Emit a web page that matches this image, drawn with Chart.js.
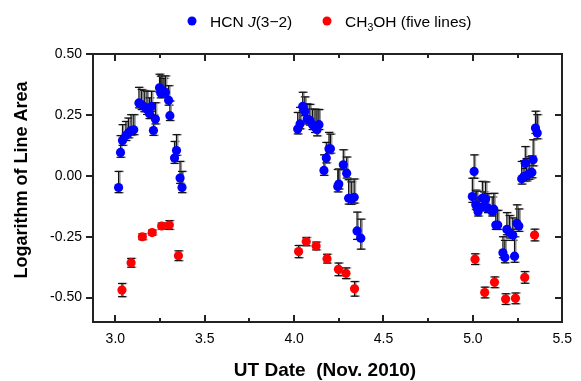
<!DOCTYPE html>
<html>
<head>
<meta charset="utf-8">
<script src="https://cdn.jsdelivr.net/npm/chart.js@4.4.0/dist/chart.umd.min.js"></script>
<style>
  html, body { margin: 0; padding: 0; background: #fff; }
  #grafico { display: block; }
</style>
</head>
<body>
<canvas id="grafico" width="581" height="381"></canvas>
<script>
// HCN J(3-2)
const hcnX = [3.018, 3.029, 3.040, 3.059, 3.073, 3.088, 3.103, 3.132, 3.147, 3.162, 3.177, 3.191, 3.202,
  3.213, 3.224, 3.247, 3.254, 3.261, 3.272, 3.280, 3.298, 3.305, 3.331, 3.342, 3.362, 3.373,
  4.020, 4.033, 4.048, 4.060, 4.073, 4.088, 4.103, 4.117, 4.128, 4.139, 4.167, 4.180, 4.195, 4.203,
  4.244, 4.250, 4.275, 4.294, 4.305, 4.320, 4.336, 4.352, 4.373,
  4.997, 5.007, 5.016, 5.022, 5.029, 5.053, 5.062, 5.071, 5.084, 5.108, 5.117, 5.128, 5.139, 5.168,
  5.179, 5.190, 5.205, 5.223, 5.233, 5.246, 5.257, 5.273, 5.286, 5.293, 5.300, 5.315, 5.330, 5.337,
  5.350, 5.360];
const hcnY = [-0.048, 0.096, 0.145, 0.165, 0.176, 0.186, 0.189, 0.299, 0.292, 0.283, 0.274, 0.255, 0.285,
  0.186, 0.233, 0.361, 0.340, 0.351, 0.340, 0.343, 0.310, 0.247, 0.073, 0.104, -0.009, -0.048,
  0.192, 0.213, 0.285, 0.265, 0.233, 0.228, 0.210, 0.200, 0.189, 0.210, 0.022, 0.073, 0.111, 0.111,
  -0.044, -0.034, 0.045, 0.011, -0.092, -0.095, -0.088, -0.226, -0.256,
  -0.085, 0.018, -0.119, -0.123, -0.147, -0.092, -0.126, -0.095, -0.133, -0.147, -0.137, -0.202, -0.202, -0.316,
  -0.335, -0.220, -0.233, -0.243, -0.330, -0.195, -0.206, -0.012, -0.003, 0.052, 0.001, 0.008, 0.014, 0.066,
  0.196, 0.176];
const hcnErrUp = [0.066, 0.069, 0.065, 0.058, 0.061, 0.065, 0.062, 0.064, 0.062, 0.067, 0.073, 0.065, 0.062,
  0.064, 0.067, 0.056, 0.069, 0.059, 0.060, 0.067, 0.060, 0.060, 0.068, 0.065, 0.068, 0.066,
  0.068, 0.068, 0.058, 0.059, 0.063, 0.065, 0.064, 0.074, 0.083, 0.062, 0.064, 0.064, 0.067, 0.060,
  0.070, 0.062, 0.062, 0.066, 0.076, 0.070, 0.075, 0.077, 0.078,
  0.075, 0.068, 0.060, 0.060, 0.060, 0.069, 0.060, 0.070, 0.060, 0.060, 0.065, 0.060, 0.060, 0.066,
  0.070, 0.069, 0.070, 0.070, 0.080, 0.076, 0.070, 0.071, 0.065, 0.068, 0.070, 0.070, 0.068, 0.082,
  0.069, 0.075];
const hcnErrDown = [0.021, 0.020, 0.020, 0.020, 0.020, 0.020, 0.020, 0.020, 0.020, 0.020, 0.022, 0.020, 0.020,
  0.020, 0.020, 0.018, 0.020, 0.018, 0.018, 0.020, 0.020, 0.020, 0.022, 0.020, 0.022, 0.021,
  0.020, 0.020, 0.018, 0.018, 0.020, 0.020, 0.020, 0.022, 0.025, 0.020, 0.020, 0.020, 0.020, 0.018,
  0.022, 0.020, 0.020, 0.020, 0.024, 0.022, 0.024, 0.035, 0.045,
  0.024, 0.028, 0.018, 0.018, 0.018, 0.022, 0.018, 0.022, 0.018, 0.018, 0.020, 0.018, 0.018, 0.020,
  0.022, 0.022, 0.022, 0.022, 0.025, 0.024, 0.022, 0.022, 0.020, 0.022, 0.022, 0.022, 0.022, 0.025,
  0.022, 0.024];

// CH3OH (five lines)
const ch3ohX = [3.037, 3.088, 3.151, 3.206, 3.259, 3.302, 3.353,
  4.025, 4.068, 4.123, 4.184, 4.248, 4.290, 4.338,
  5.012, 5.066, 5.121, 5.183, 5.238, 5.290, 5.345];
const ch3ohY = [-0.469, -0.357, -0.250, -0.233, -0.206, -0.202, -0.328,
  -0.311, -0.270, -0.288, -0.340, -0.384, -0.400, -0.464,
  -0.342, -0.479, -0.437, -0.506, -0.503, -0.417, -0.243];
const ch3ohErr = [0.027, 0.018, 0.012, 0.010, 0.012, 0.018, 0.020,
  0.025, 0.017, 0.016, 0.018, 0.026, 0.022, 0.030,
  0.022, 0.022, 0.022, 0.022, 0.022, 0.024, 0.024];

const xTicks = [3.0, 3.5, 4.0, 4.5, 5.0, 5.5];
const xMinorTicks = [3.25, 3.75, 4.25, 4.75, 5.25];
const yTicks = [-0.50, -0.25, 0.00, 0.25, 0.50];

const tituloX = 'UT Date  (Nov. 2010)';
const tituloY = 'Logarithm of Line Area';

const fuente = 'Liberation Sans, Arial, sans-serif';
const colorEje = '#222';

// barras de error (debajo de los puntos), marco, marcas, títulos y leyenda
const extras = {
  id: 'extras',
  beforeDatasetsDraw(chart) {
    const ctx = chart.ctx, sx = chart.scales.x, sy = chart.scales.y;
    ctx.save();
    chart.data.datasets.forEach(ds => {
      ds.data.forEach((p, i) => {
        const px = sx.getPixelForValue(p.x);
        const top = sy.getPixelForValue(p.y + ds.errUp[i]);
        const bot = sy.getPixelForValue(p.y - ds.errDown[i]);
        [['#9a9a9a', 1.5, 1.3], ['#111', 1.2, 0]].forEach(([col, lw, off]) => {
          ctx.fillStyle = col;
          ctx.fillRect(px + off - lw / 2, top, lw, bot - top);
          ctx.fillRect(px + off - 4, top - lw / 2, 8, lw);
          ctx.fillRect(px + off - 4, bot - lw / 2, 8, lw);
        });
      });
    });
    ctx.restore();
  },
  afterDraw(chart) {
    const ctx = chart.ctx, sx = chart.scales.x, sy = chart.scales.y;
    const L = Math.round(sx.left), R = Math.round(sx.right);
    const T = Math.round(sy.top), B = Math.round(sy.bottom);
    ctx.save();
    ctx.fillStyle = colorEje;
    // lados de arriba y derecho (pixeles enteros, 2 px)
    ctx.fillRect(L - 1, T - 1, R - L + 2, 2);
    ctx.fillRect(R - 1, T - 1, 2, B - T + 2);
    // marcas hacia dentro en x (abajo y arriba)
    xTicks.forEach(v => {
      const p = Math.round(sx.getPixelForValue(v));
      ctx.fillRect(p - 1, B - 7, 2, 7);
      ctx.fillRect(p - 1, T, 2, 7);
    });
    xMinorTicks.forEach(v => {
      const p = Math.round(sx.getPixelForValue(v));
      ctx.fillRect(p - 1, B - 4, 2, 4);
      ctx.fillRect(p - 1, T, 2, 4);
    });
    // marcas hacia dentro a la derecha
    yTicks.forEach(v => {
      const q = Math.round(sy.getPixelForValue(v));
      ctx.fillRect(R - 7, q - 1, 7, 2);
    });

    // títulos
    ctx.fillStyle = '#000';
    ctx.textAlign = 'center';
    ctx.textBaseline = 'middle';
    ctx.font = 'bold 19px ' + fuente;
    ctx.fillText(tituloX, 325, 371);
    ctx.save();
    ctx.translate(22, 180);
    ctx.rotate(-Math.PI / 2);
    ctx.font = 'bold 18px ' + fuente;
    ctx.fillText(tituloY, 0, 0);
    ctx.restore();

    // leyenda
    const base = 27;
    ctx.textAlign = 'left';
    ctx.textBaseline = 'alphabetic';
    ctx.fillStyle = '#0000ff';
    ctx.beginPath(); ctx.arc(192, 21, 4.5, 0, Math.PI * 2); ctx.fill();
    ctx.fillStyle = '#ff0000';
    ctx.beginPath(); ctx.arc(327, 21, 4.5, 0, Math.PI * 2); ctx.fill();
    ctx.fillStyle = '#000';
    const trozos = (x, partes) => {
      partes.forEach(([t, f, dy]) => {
        ctx.font = f;
        ctx.fillText(t, x, base + dy);
        x += ctx.measureText(t).width;
      });
    };
    const normal = '15.5px ' + fuente;
    trozos(210, [['HCN ', normal, 0], ['J', 'italic ' + normal, 0], ['(3\u22122)', normal, 0]]);
    trozos(345, [['CH', normal, 0], ['3', '10.5px ' + fuente, 4], ['OH (five lines)', normal, 0]]);
    ctx.restore();
  }
};

function serie(vx, vy) {
  return vx.map((x, i) => ({ x: x, y: vy[i] }));
}

const borde = { display: true, color: colorEje, width: 2 };

new Chart(document.getElementById('grafico'), {
  type: 'scatter',
  data: {
    datasets: [
      {
        label: 'HCN J(3-2)',
        data: serie(hcnX, hcnY),
        errUp: hcnErrUp,
        errDown: hcnErrDown,
        backgroundColor: '#0000ff',
        borderWidth: 0,
        pointRadius: 4.6
      },
      {
        label: 'CH3OH (five lines)',
        data: serie(ch3ohX, ch3ohY),
        errUp: ch3ohErr,
        errDown: ch3ohErr,
        backgroundColor: '#ff0000',
        borderWidth: 0,
        pointRadius: 4.6
      }
    ]
  },
  options: {
    responsive: false,
    animation: false,
    layout: { padding: { top: 54, right: 12, left: 0, bottom: 0 } },
    plugins: { legend: { display: false }, tooltip: { enabled: false } },
    scales: {
      x: {
        type: 'linear',
        min: 2.875,
        max: 5.5,
        afterBuildTicks: s => { s.ticks = xTicks.map(v => ({ value: v })); },
        afterFit: s => { s.height = 59; },
        grid: { display: true, drawOnChartArea: false, drawTicks: false, color: colorEje },
        border: borde,
        ticks: {
          padding: 9,
          color: '#000',
          font: { family: fuente, size: 14 },
          callback: v => Number(v).toFixed(1)
        }
      },
      y: {
        min: -0.6,
        max: 0.5,
        afterBuildTicks: s => { s.ticks = yTicks.map(v => ({ value: v })); },
        afterFit: s => { s.width = 93; },
        grid: { display: true, drawOnChartArea: false, drawTicks: true, tickLength: 7, color: colorEje, lineWidth: 2 },
        border: borde,
        ticks: {
          padding: 4,
          color: '#000',
          font: { family: fuente, size: 14 },
          callback: v => Number(v).toFixed(2)
        }
      }
    }
  },
  plugins: [extras]
});
</script>
</body>
</html>
